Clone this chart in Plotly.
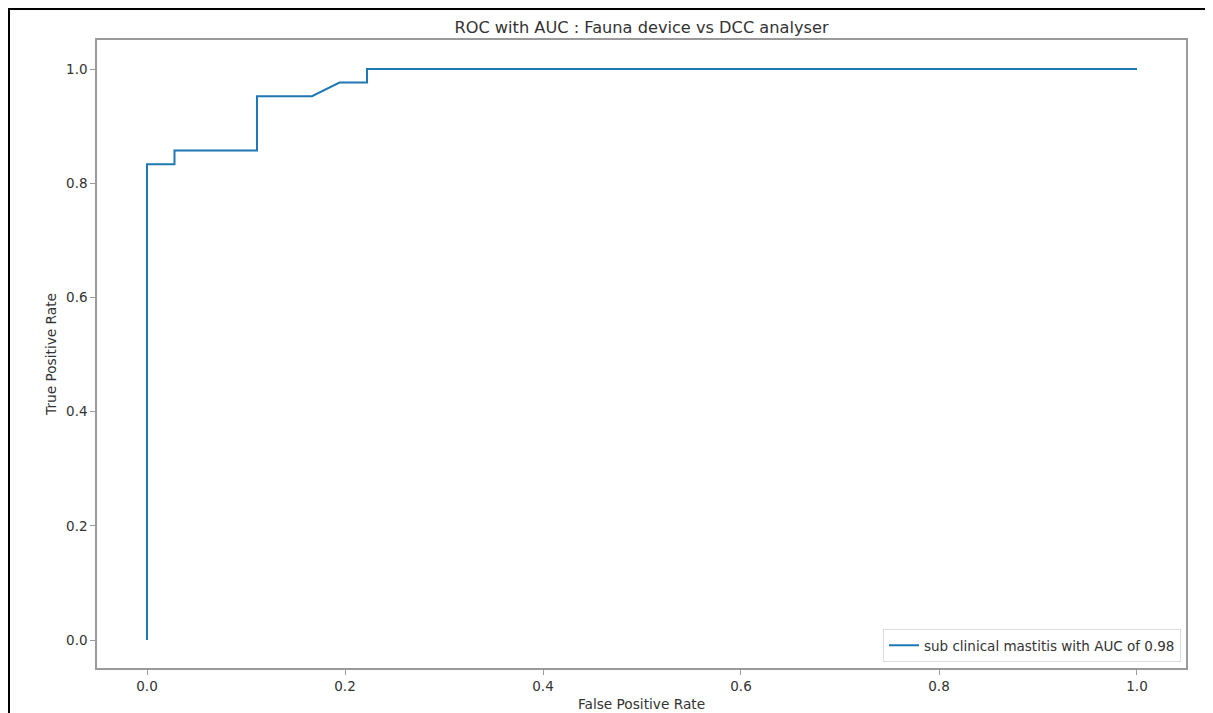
import plotly.graph_objects as go

fpr = [0.0, 0.0, 1/36, 1/36, 4/36, 4/36, 6/36, 7/36, 8/36, 8/36, 1.0]
tpr = [0.0, 35/42, 35/42, 36/42, 36/42, 40/42, 40/42, 41/42, 41/42, 1.0, 1.0]
tick_vals = [0.0, 0.2, 0.4, 0.6, 0.8, 1.0]
tick_text = ["0.0", "0.2", "0.4", "0.6", "0.8", "1.0"]
series_name = "sub clinical mastitis with AUC of 0.98"
title_text = "ROC with AUC : Fauna device vs DCC analyser"

OFF = 8  # page body margin
W, H = 1213 - OFF, 713 - OFF
# plot area in page pixels: left 97, right 1186, top 40, bottom 668
L, R, T, B = 97 - OFF, 1213 - 1186, 40 - OFF, 713 - 668
pw, ph = W - L - R, H - T - B

def px_x(p):
    return (p - OFF - L) / pw

def px_y(p):
    return (H - B - (p - OFF)) / ph

font = "DejaVu Sans"
txt = "#333333"
fig = go.Figure()
fig.add_trace(go.Scatter(x=fpr, y=tpr, mode="lines", name=series_name,
                         line=dict(color="#1f77b4", width=2)))

axis_common = dict(showgrid=False, zeroline=False, showline=True, mirror=True,
                   linecolor="#9a9a9a", linewidth=1.5, ticks="outside", ticklen=5,
                   tickcolor="#9a9a9a", tickwidth=1, automargin=False,
                   tickfont=dict(family=font, size=13.5, color=txt),
                   tickvals=tick_vals, ticktext=tick_text)

fig.update_layout(
    width=W, height=H,
    margin=dict(l=L, r=R, t=T, b=B),
    paper_bgcolor="white", plot_bgcolor="white",
    title=dict(text=title_text, x=(641.5 - OFF) / W, xanchor="center",
               y=1 - (27 - OFF) / H, yanchor="middle",
               font=dict(family=font, size=16.2, color=txt)),
    xaxis=dict(range=[-0.0505, 1.0495], title=dict(text="False Positive Rate",
               font=dict(family=font, size=13.7, color=txt), standoff=6), **axis_common),
    yaxis=dict(range=[-0.049, 1.0508], title=dict(text="True Positive Rate",
               font=dict(family=font, size=13.7, color=txt), standoff=6), **axis_common),
    legend=dict(x=px_x(1181), y=px_y(662), xanchor="right", yanchor="bottom",
                bordercolor="#dddddd", borderwidth=1, bgcolor="rgba(255,255,255,0.8)",
                font=dict(family=font, size=13.5, color=txt)),
    showlegend=True,
)

# outer black frame (left and top edges)
fig.add_shape(type="line", xref="paper", yref="paper",
              x0=px_x(9), x1=px_x(9), y0=px_y(9), y1=px_y(740),
              line=dict(color="black", width=2))
fig.add_shape(type="line", xref="paper", yref="paper",
              x0=px_x(8), x1=px_x(1240), y0=px_y(9), y1=px_y(9),
              line=dict(color="black", width=2))

fig.write_html("out.html")
